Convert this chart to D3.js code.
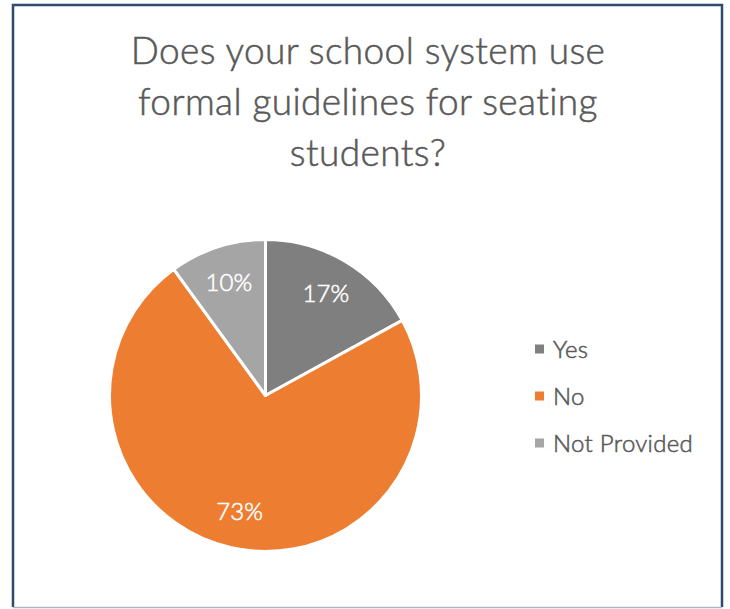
<!DOCTYPE html>
<html>
<head>
<meta charset="utf-8">
<script src="https://cdn.jsdelivr.net/npm/d3@7"></script>
<style>
  html, body { margin: 0; padding: 0; background: #ffffff; }
  svg { display: block; }
  text { font-family: Lato, "Noto Sans", sans-serif; }
  .book { font-weight: 300; stroke-width: 0.55px; }
</style>
</head>
<body>
<svg id="chart" width="730" height="609"></svg>
<script>
const categories = ["Yes", "No", "Not Provided"];
const values = [17, 73, 10];
const colors = ["#7f7f7f", "#ed7d31", "#a5a5a5"];
const titleLines = ["Does your school system use", "formal guidelines for seating", "students?"];

const svg = d3.select("#chart");

// chart frame: dark sides and top, pale bottom edge
const frame = svg.append("g").attr("fill", "none");
frame.append("path")
  .attr("d", "M13,607 V5 H722 V607")
  .attr("stroke", "#2e4a6d")
  .attr("stroke-width", 2.5);
frame.append("line")
  .attr("x1", 13).attr("x2", 722)
  .attr("y1", 607.5).attr("y2", 607.5)
  .attr("stroke", "#a9b6c8")
  .attr("stroke-width", 1.5);

// title
svg.append("g").selectAll("text")
  .data(titleLines)
  .join("text")
  .attr("class", "book")
  .attr("x", 368)
  .attr("y", (d, i) => 64 + i * 51)
  .attr("text-anchor", "middle")
  .attr("fill", "#595959")
  .attr("stroke", "#595959")
  .attr("font-size", 37)
  .attr("letter-spacing", 0.4)
  .text(d => d);

// pie
const cx = 265.5, cy = 395.5, R = 156;
const data = categories.map((c, i) => ({ category: c, value: values[i], color: colors[i] }));
const pie = d3.pie().sort(null).value(d => d.value);
const arcs = pie(data);
const arc = d3.arc().innerRadius(0).outerRadius(R);
const labelArc = d3.arc().innerRadius(R * 0.76).outerRadius(R * 0.76);

const g = svg.append("g").attr("transform", `translate(${cx},${cy})`);
g.selectAll("path")
  .data(arcs)
  .join("path")
  .attr("d", arc)
  .attr("fill", d => d.data.color)
  .attr("stroke", "#ffffff")
  .attr("stroke-width", 3)
  .attr("stroke-linejoin", "round");

g.selectAll("text")
  .data(arcs)
  .join("text")
  .attr("class", "book")
  .attr("transform", d => `translate(${labelArc.centroid(d)})`)
  .attr("text-anchor", "middle")
  .attr("dy", "0.36em")
  .attr("fill", "#ffffff")
  .attr("stroke", "#ffffff")
  .attr("font-size", 24)
  .text(d => d.data.value + "%");

// legend
const legend = svg.append("g");
const items = legend.selectAll("g")
  .data(data)
  .join("g")
  .attr("transform", (d, i) => `translate(535,${349 + i * 47})`);
items.append("rect")
  .attr("x", 0).attr("y", -4.5)
  .attr("width", 9).attr("height", 9)
  .attr("fill", d => d.color);
items.append("text")
  .attr("class", "book")
  .attr("x", 18)
  .attr("dy", "0.36em")
  .attr("fill", "#595959")
  .attr("stroke", "#595959")
  .attr("font-size", 24)
  .attr("letter-spacing", 0.3)
  .text(d => d.category);
</script>
</body>
</html>
